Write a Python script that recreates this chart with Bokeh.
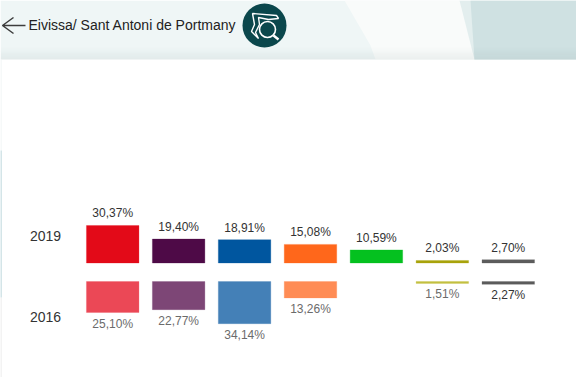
from bokeh.plotting import figure
from bokeh.embed import file_html
from bokeh.resources import INLINE
from bokeh.models import ColumnDataSource, Range1d, BoxAnnotation, PolyAnnotation, Label
from bokeh.core.properties import value

title = "Eivissa/ Sant Antoni de Portmany"
years = ["2019", "2016"]
x2019 = [0, 1, 2, 3, 4, 5, 6]
v2019 = [30.37, 19.40, 18.91, 15.08, 10.59, 2.03, 2.70]
l2019 = ["30,37%", "19,40%", "18,91%", "15,08%", "10,59%", "2,03%", "2,70%"]
c2019 = ["#e30a18", "#4e0a47", "#00569f", "#ff671b", "#04c11f", "#a8a30a", "#5c5c5c"]
x2016 = [0, 1, 2, 3, 5, 6]
v2016 = [25.10, 22.77, 34.14, 13.26, 1.51, 2.27]
l2016 = ["25,10%", "22,77%", "34,14%", "13,26%", "1,51%", "2,27%"]
c2016 = ["#eb4856", "#7d4676", "#4480b7", "#ff8c55", "#c3c041", "#5c5c5c"]
t2016 = ["#6b6b6b", "#6b6b6b", "#6b6b6b", "#6b6b6b", "#6b6b6b", "#333333"]
GAP = 15.0
PX = 1.235
base_px = 262.5
H = 377
SP = 65.93
X0 = 112.2

p = figure(width=576, height=H, output_backend="svg", toolbar_location=None,
           x_range=Range1d(-X0 / SP, (576 - X0) / SP),
           y_range=Range1d(-(H - base_px) / PX, base_px / PX),
           min_border=0, outline_line_color=None,
           styles={"position": "absolute", "left": "0px", "top": "0px"})
p.axis.visible = False
p.grid.visible = False
p.background_fill_color = "white"
p.border_fill_color = "white"

def box(l, t, r, b, c, a=1.0):
    p.add_layout(BoxAnnotation(left=l, right=r, top=H - t, bottom=H - b, left_units="screen", right_units="screen",
                               top_units="screen", bottom_units="screen", fill_color=c, fill_alpha=a,
                               line_color=None, level="underlay"))

def poly(xs, ys, c=None, a=1.0, lc=None, lw=1):
    p.add_layout(PolyAnnotation(xs=xs, ys=[H - y for y in ys], xs_units="screen", ys_units="screen", fill_color=c, fill_alpha=a if c else 0,
                                line_color=lc, line_alpha=1.0, line_width=lw, level="annotation" if lc else "underlay"))

# header band
box(0, 0, 576, 59, "#eff6f6")
poly([344, 576, 576, 375, 370], [0, 0, 59, 59, 45], "#f9fbfa")
poly([459, 576, 576, 474], [0, 0, 59, 59], "#e3eeee")
poly([470, 576, 576, 474], [0, 0, 59, 59], "#cfe1e2")
for i in range(12):
    box(0, 47 + i, 576, 48 + i, "#7f8f8f", 0.009 * (i + 1))
# left edge strip
box(0, 59, 1, 150, "#eef3f3")
box(0, 150, 1, 297, "#a9cbd2")
box(0, 297, 1, H, "#e8e8e8")

# arrow
poly([2, 25, 2, 13, 2, 13], [25, 25, 25, 17, 25, 33], None, lc="#3c3c3c", lw=1.5)

p.add_layout(Label(x=28, y=H - 24.5, x_units="screen", y_units="screen", text=title, text_font="Liberation Sans",
                   text_font_size="14px", text_color="#222222", text_baseline="middle"))

# icon
p.circle(x=[(264 - X0) / SP], y=[(base_px - 25) / PX], radius=22, radius_units="screen", fill_color="#0b474c", line_color=None)
poly([252, 276, 278, 268, 258, 259, 255, 258, 251, 254],
     [13, 15, 18, 19, 17, 24, 32, 38, 31, 24], None, lc="white", lw=1.4)
p.circle(x=[(267 - X0) / SP], y=[(base_px - 29) / PX], radius=8, radius_units="screen", fill_color="#0b474c", line_color="white", line_width=1.6)
poly([273, 278], [35, 39], None, lc="white", lw=2.4)

# bars
w = 52.5 / SP
src19 = ColumnDataSource(dict(x=x2019, top=v2019, bottom=[0] * 7, c=c2019, l=l2019))
p.vbar(x="x", width=w, top="top", bottom="bottom", fill_color="c", line_color="c", line_alpha=0.35, line_width=0.8, source=src19)
p.text(x="x", y="top", text="l", source=src19, y_offset=-5, text_align="center", text_baseline="bottom",
       text_font=value("Liberation Sans"), text_font_size="12px", text_color="#333333")
src16 = ColumnDataSource(dict(x=x2016, top=[-GAP] * 6, bottom=[-GAP - v for v in v2016], c=c2016, l=l2016, t=t2016))
p.vbar(x="x", width=w, top="top", bottom="bottom", fill_color="c", line_color="c", line_alpha=0.35, line_width=0.8, source=src16)
p.text(x="x", y="bottom", text="l", source=src16, y_offset=4, text_align="center", text_baseline="top",
       text_font=value("Liberation Sans"), text_font_size="12px", text_color="t")

# year labels
p.text(x=[(45 - X0) / SP] * 2, y=[(base_px - 235.5) / PX, (base_px - 316.5) / PX], text=years, text_align="center",
       text_baseline="middle", text_font=value("Liberation Sans"), text_font_size="14px", text_color="#333333")

open("out.html", "w").write(file_html(p, INLINE))
